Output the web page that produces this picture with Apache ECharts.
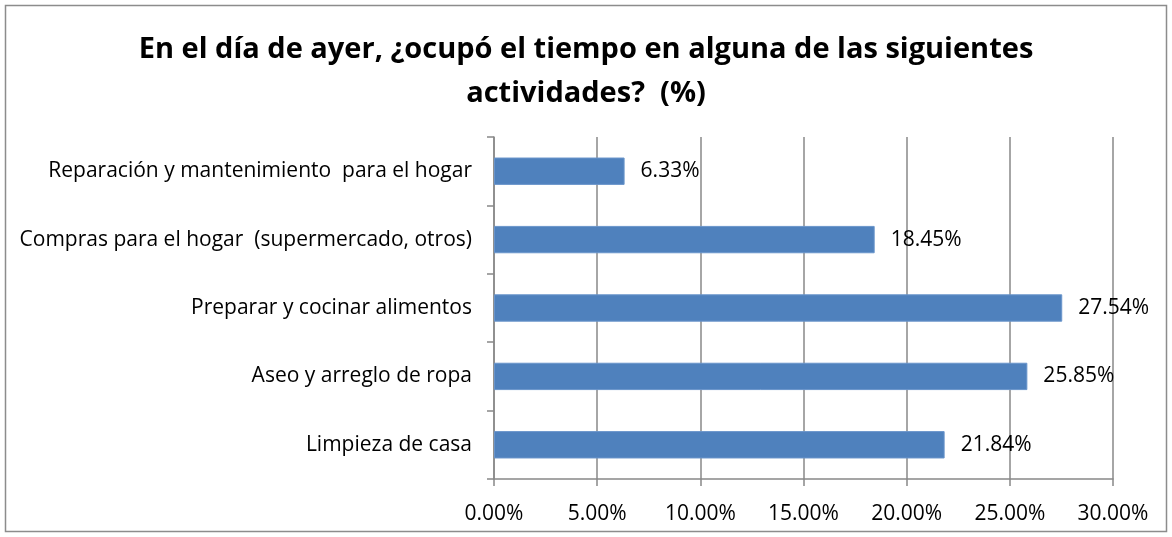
<!DOCTYPE html>
<html><head><meta charset="utf-8">
<script src="https://cdn.jsdelivr.net/npm/echarts@6/dist/echarts.min.js"></script>
<style>html,body{margin:0;padding:0;background:#fff}#c{width:1172px;height:537px}</style>
</head><body><div id="c"></div>
<script>
const titleText = "En el día de ayer, ¿ocupó el tiempo en alguna de las siguientes\nactividades?  (%)";
const categories = ["Limpieza de casa", "Aseo y arreglo de ropa", "Preparar y cocinar alimentos", "Compras para el hogar  (supermercado, otros)", "Reparación y mantenimiento  para el hogar"];
const values = [21.84, 25.85, 27.54, 18.45, 6.33];
const xTicks = [0, 5, 10, 15, 20, 25, 30];

const chart = echarts.init(document.getElementById('c'), null, {renderer: 'canvas'});
const font = "'Open Sans', 'Noto Sans', sans-serif";
chart.setOption({
  animation: false,
  backgroundColor: '#fff',
  graphic: [{type: 'rect', shape: {x: 5.5, y: 5.5, width: 1161, height: 526}, style: {fill: 'none', stroke: '#8c8c8c', lineWidth: 1.5}, silent: true}],
  title: {
    text: titleText, left: 'center', top: 23,
    textStyle: {fontFamily: font, fontWeight: 'bold', fontSize: 29, lineHeight: 44, color: '#000'}
  },
  grid: {left: 494, right: 59, top: 137, bottom: 58, containLabel: false},
  xAxis: {
    type: 'value', min: xTicks[0], max: xTicks[xTicks.length - 1], interval: 5,
    axisLine: {show: true, lineStyle: {color: '#888', width: 1.5}},
    axisTick: {show: true, length: 7, lineStyle: {color: '#888', width: 1.5}},
    splitLine: {show: true, lineStyle: {color: '#888', width: 1.5}},
    axisLabel: {margin: 25, fontFamily: font, fontSize: 21, color: '#000', formatter: v => v.toFixed(2) + '%'}
  },
  yAxis: {
    type: 'category', data: categories,
    axisLine: {show: true, lineStyle: {color: '#888', width: 1.5}},
    axisTick: {show: true, length: 7, lineStyle: {color: '#888', width: 1.5}},
    axisLabel: {margin: 22, fontFamily: font, fontSize: 21, color: '#000'}
  },
  series: [{
    type: 'bar', data: values, barWidth: '40%',
    itemStyle: {color: '#4F81BD', borderColor: '#6A95CB', borderWidth: 1},
    label: {show: true, position: 'right', distance: 16, fontFamily: font, fontSize: 21, color: '#000', formatter: p => p.value.toFixed(2) + '%'}
  }]
});
</script></body></html>
